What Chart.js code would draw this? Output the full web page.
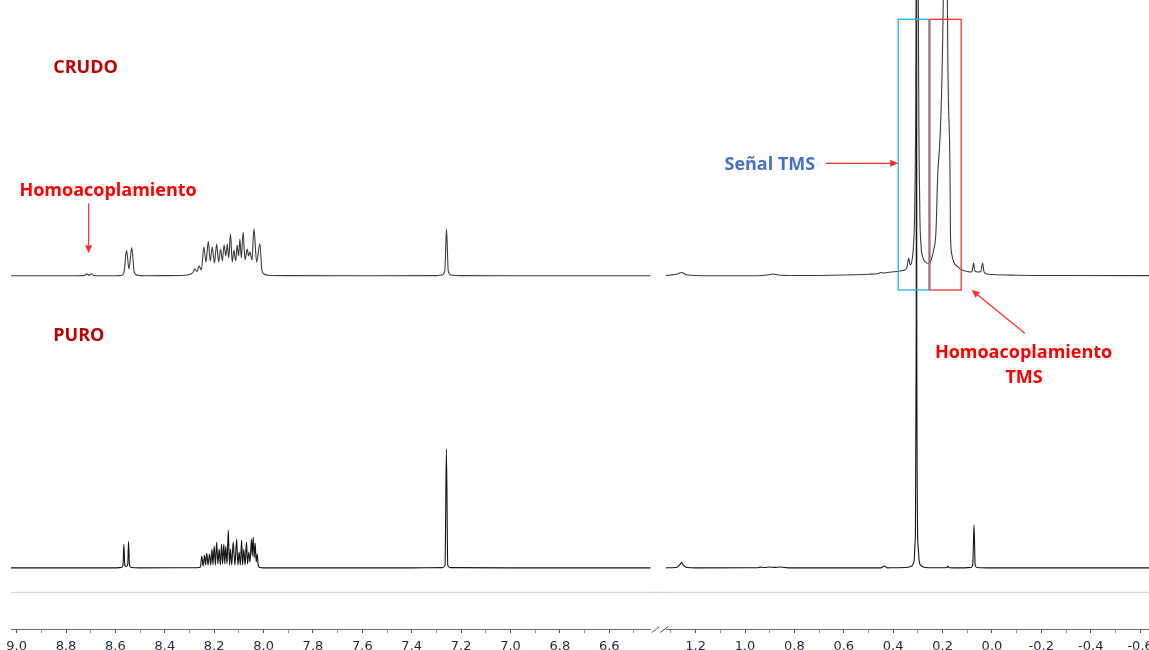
<!DOCTYPE html>
<html>
<head>
<meta charset="utf-8">
<script src="https://cdn.jsdelivr.net/npm/chart.js@4.4.1/dist/chart.umd.min.js"></script>
<style>
    html, body { margin: 0; padding: 0; background: #fff; }
    #wrap { position: relative; width: 1149px; height: 650px; overflow: hidden; background: #fff; }
    canvas { position: absolute; top: 0; }
    #leftChart { left: 0; }
    #rightChart { left: 652px; }
</style>
</head>
<body>
<div id="wrap">
    <canvas id="leftChart" width="672" height="660"></canvas>
    <canvas id="rightChart" width="520" height="660"></canvas>
</div>
<script>
// ppm shown on each side of the broken axis
var leftRange = [6.432, 9.023];
var rightRange = [-0.636, 1.320];

var leftMajorTicks = [9.0, 8.8, 8.6, 8.4, 8.2, 8.0, 7.8, 7.6, 7.4, 7.2, 7.0, 6.8, 6.6];
var leftMinorTicks = [8.9, 8.7, 8.5, 8.3, 8.1, 7.9, 7.7, 7.5, 7.3, 7.1, 6.9, 6.7, 6.5];
var rightMajorTicks = [1.2, 1.0, 0.8, 0.6, 0.4, 0.2, 0.0, -0.2, -0.4, -0.6];
var rightMinorTicks = [1.3, 1.1, 0.9, 0.7, 0.5, 0.3, 0.1, -0.1, -0.3, -0.5];

// [ppm, intensity]
var crudoAromatic = [
    [9.023, 0.3], [8.80, 0.2], [8.73, 0.4], [8.722, 1.0], [8.717, 2.3], [8.707, 0.8], [8.697, 2.3], [8.690, 0.8], [8.68, 0.3], [8.60, 0.3],
    [8.575, 0.8], [8.565, 4], [8.555, 25.7], [8.545, 7], [8.534, 28.4], [8.524, 4], [8.51, 0.8], [8.48, 0.3],
    [8.40, 0.4], [8.32, 0.8], [8.295, 2], [8.285, 4], [8.278, 7.3], [8.270, 4.5], [8.261, 10], [8.252, 6],
    [8.242, 29], [8.233, 14], [8.224, 34.7], [8.216, 15], [8.208, 29], [8.199, 13], [8.190, 32], [8.182, 14],
    [8.174, 27], [8.167, 15], [8.160, 31], [8.153, 20], [8.147, 32], [8.141, 18], [8.134, 42.3], [8.127, 14],
    [8.120, 25.7], [8.113, 15], [8.107, 30.7], [8.101, 20], [8.096, 37], [8.090, 18], [8.083, 44], [8.075, 16],
    [8.066, 27], [8.061, 20], [8.055, 24], [8.047, 16], [8.039, 47.3], [8.028, 14], [8.015, 32.3], [8.007, 6],
    [7.998, 2], [7.98, 0.8], [7.90, 0.4], [7.60, 0.3], [7.30, 0.4], [7.279, 1], [7.266, 5], [7.259, 47],
    [7.252, 5], [7.240, 1], [7.20, 0.4], [7.00, 0.3], [6.70, 0.3], [6.432, 0.3]
];

var crudoAliphatic = [
    [1.320, 0.5], [1.30, 1], [1.275, 2], [1.257, 3.5], [1.24, 1.5], [1.22, 0.8], [1.10, 0.3], [0.95, 0.3],
    [0.91, 1], [0.886, 2], [0.865, 1], [0.80, 0.5], [0.60, 1], [0.50, 1.8], [0.46, 2.5], [0.45, 3.5], [0.44, 3],
    [0.40, 4.3], [0.36, 5.5], [0.345, 8], [0.337, 17.7], [0.331, 11], [0.325, 14], [0.318, 30], [0.3125, 72],
    [0.307, 261], [0.3045, 700], [0.3024, 3000], [0.3003, 700], [0.2978, 261], [0.2925, 72], [0.287, 30],
    [0.280, 19], [0.270, 14], [0.2555, 12.5], [0.245, 17], [0.235, 27], [0.227, 43], [0.218, 109], [0.198, 261],
    [0.1925, 800], [0.189, 3000], [0.1855, 800], [0.180, 261], [0.170, 109], [0.168, 43], [0.162, 21], [0.155, 14],
    [0.137, 9], [0.125, 6.5], [0.10, 4.5], [0.085, 4], [0.080, 5], [0.0745, 13], [0.069, 5], [0.055, 4],
    [0.045, 4.5], [0.038, 13], [0.032, 4], [0.020, 2], [0.0, 1.5], [-0.1, 0.8], [-0.3, 0.5], [-0.636, 0.4]
];

var puroAromatic = [
    [9.023, 0.2], [8.60, 0.2], [8.575, 0.6], [8.569, 3], [8.566, 24], [8.562, 3], [8.556, 1.5], [8.550, 4],
    [8.547, 26.6], [8.543, 3], [8.536, 0.6], [8.50, 0.2], [8.27, 0.3], [8.256, 1],
    [8.250, 12], [8.245, 2], [8.239, 13], [8.235, 3], [8.230, 15], [8.225, 3], [8.219, 14], [8.214, 3],
    [8.209, 19], [8.205, 3], [8.200, 22], [8.195, 3], [8.190, 26], [8.185, 4], [8.180, 19], [8.175, 3],
    [8.170, 24], [8.166, 4], [8.161, 24], [8.157, 4], [8.153, 22], [8.148, 4], [8.143, 38], [8.138, 3],
    [8.134, 19], [8.129, 3], [8.123, 26], [8.116, 3], [8.109, 29], [8.104, 3], [8.099, 16], [8.094, 3],
    [8.089, 28], [8.085, 3], [8.080, 19], [8.075, 3], [8.069, 26], [8.065, 4], [8.060, 16], [8.055, 6],
    [8.049, 29], [8.046, 12], [8.042, 31], [8.038, 10], [8.034, 25], [8.030, 6], [8.026, 14], [8.021, 2],
    [8.015, 0.6], [8.00, 0.2], [7.40, 0.2], [7.275, 0.4], [7.265, 3], [7.2595, 119], [7.254, 3], [7.245, 0.4],
    [7.00, 0.2], [6.432, 0.2]
];

var puroAliphatic = [
    [1.320, 0.2], [1.30, 0.3], [1.275, 0.8], [1.262, 4], [1.257, 5.7], [1.250, 3], [1.235, 0.6], [1.20, 0.2],
    [0.95, 0.3], [0.94, 0.9], [0.92, 0.6], [0.90, 1.0], [0.88, 0.7], [0.86, 1.0], [0.84, 0.6], [0.82, 0.2],
    [0.45, 0.2], [0.435, 2], [0.425, 0.2], [0.40, 0.3], [0.34, 0.8], [0.325, 2], [0.316, 6], [0.310, 30],
    [0.3065, 250], [0.3055, 3000], [0.3045, 250], [0.300, 25], [0.294, 6], [0.285, 2], [0.27, 0.6], [0.20, 0.3],
    [0.182, 0.5], [0.178, 2], [0.174, 0.4], [0.12, 0.2], [0.085, 0.6], [0.078, 3], [0.0725, 43.3], [0.068, 3],
    [0.060, 0.6], [0.0, 0.2], [-0.636, 0.2]
];

// light rule under the lower spectrum (on the PURO intensity axis)
var separatorLevel = -24.3;

// intensity windows that stack the two spectra
var puroWindow = [-61, 568];
var crudoWindow = [-353, 276];

var noteFont = 'bold 18px "Open Sans", sans-serif';

function toPoints(pairs) {
    return pairs.map(function (p) { return { x: p[0], y: p[1] }; });
}

function spectrum(pairs, axis, color) {
    return {
        data: toPoints(pairs),
        yAxisID: axis,
        borderColor: color,
        borderWidth: 1.1,
        pointRadius: 0,
        fill: false,
        cubicInterpolationMode: 'monotone'
    };
}

function separator(fromPpm, toPpm) {
    return {
        data: [{ x: fromPpm, y: separatorLevel }, { x: toPpm, y: separatorLevel }],
        yAxisID: 'y',
        borderColor: '#cfcfcf',
        borderWidth: 1,
        pointRadius: 0,
        clip: false
    };
}

function xAxis(range, major, minor) {
    return {
        type: 'linear',
        reverse: true,
        min: range[0],
        max: range[1],
        afterBuildTicks: function (scale) {
            scale.ticks = major.concat(minor).sort(function (a, b) { return a - b; })
                .map(function (v) { return { value: v }; });
        },
        ticks: {
            autoSkip: false,
            maxRotation: 0,
            padding: 6,
            color: '#1f2a3c',
            font: { family: 'DejaVu Sans', size: 13, lineHeight: 1.15 },
            callback: function (v) { return major.indexOf(v) >= 0 ? v.toFixed(1) : ''; }
        },
        grid: {
            drawOnChartArea: false,
            tickLength: 4,
            tickColor: function (c) {
                return c.tick && major.indexOf(c.tick.value) >= 0 ? '#555' : '#9a9a9a';
            }
        },
        border: { display: true, color: '#6a6a6a', width: 1 }
    };
}

function drawArrow(ctx, x1, y1, x2, y2, color) {
    var a = Math.atan2(y2 - y1, x2 - x1);
    var len = 8, half = 3.5;
    ctx.strokeStyle = color;
    ctx.fillStyle = color;
    ctx.lineWidth = 1.2;
    ctx.beginPath();
    ctx.moveTo(x1, y1);
    ctx.lineTo(x2 - Math.cos(a) * len, y2 - Math.sin(a) * len);
    ctx.stroke();
    ctx.beginPath();
    ctx.moveTo(x2, y2);
    ctx.lineTo(x2 - Math.cos(a) * len - Math.sin(a) * half, y2 - Math.sin(a) * len + Math.cos(a) * half);
    ctx.lineTo(x2 - Math.cos(a) * len + Math.sin(a) * half, y2 - Math.sin(a) * len - Math.cos(a) * half);
    ctx.closePath();
    ctx.fill();
}

var notesPlugin = {
    id: 'notes',
    afterDatasetsDraw: function (chart, args, opts) {
        var ctx = chart.ctx;
        var xs = chart.scales.x;
        (opts.items || []).forEach(function (it) {
            var ys = chart.scales[it.axis || 'y2'];
            ctx.save();
            if (it.type === 'text') {
                ctx.font = noteFont;
                ctx.fillStyle = it.color;
                ctx.textAlign = it.align || 'left';
                ctx.textBaseline = 'alphabetic';
                ctx.fillText(it.text, xs.getPixelForValue(it.x), ys.getPixelForValue(it.y));
            } else if (it.type === 'arrow') {
                drawArrow(ctx, xs.getPixelForValue(it.from[0]), ys.getPixelForValue(it.from[1]),
                    xs.getPixelForValue(it.to[0]), ys.getPixelForValue(it.to[1]), it.color);
            } else if (it.type === 'rect') {
                var x1 = xs.getPixelForValue(it.from[0]), y1 = ys.getPixelForValue(it.from[1]);
                var x2 = xs.getPixelForValue(it.to[0]), y2 = ys.getPixelForValue(it.to[1]);
                ctx.strokeStyle = it.color;
                ctx.lineWidth = 1.3;
                ctx.strokeRect(x1, y1, x2 - x1, y2 - y1);
            } else if (it.type === 'break') {
                var r = chart.chartArea.right, b = chart.chartArea.bottom;
                ctx.strokeStyle = '#555';
                ctx.lineWidth = 1;
                ctx.beginPath();
                ctx.moveTo(r + 1, b + 3.5); ctx.lineTo(r + 9, b - 2.5);
                ctx.moveTo(r + 9.5, b + 3.5); ctx.lineTo(r + 17.5, b - 2.5);
                ctx.stroke();
            }
            ctx.restore();
        });
    }
};

function makeChart(id, range, major, minor, datasets, padding, notes) {
    return new Chart(document.getElementById(id), {
        type: 'line',
        data: { datasets: datasets },
        options: {
            responsive: false,
            animation: false,
            events: [],
            layout: { padding: padding },
            scales: {
                x: xAxis(range, major, minor),
                y: { type: 'linear', display: false, min: puroWindow[0], max: puroWindow[1] },
                y2: { type: 'linear', display: false, min: crudoWindow[0], max: crudoWindow[1] }
            },
            plugins: {
                legend: { display: false },
                tooltip: { enabled: false },
                notes: { items: notes }
            }
        },
        plugins: [notesPlugin]
    });
}

makeChart('leftChart', leftRange, leftMajorTicks, leftMinorTicks, [
    separator(9.023, 6.37),
    spectrum(crudoAromatic, 'y2', '#3c3c3c'),
    spectrum(puroAromatic, 'y', '#151515')
], { left: 11, right: 21.3, top: 0, bottom: 0 }, [
    { type: 'text', text: 'CRUDO', x: 8.852, y: 203.3, color: '#c00000' },
    { type: 'text', text: 'PURO', x: 8.852, y: -65, color: '#c00000' },
    { type: 'text', text: 'Homoacoplamiento', x: 8.989, y: 80, color: '#ff0000' },
    { type: 'arrow', from: [8.7085, 72.7], to: [8.7085, 22.7], color: '#ff2a2a' },
    { type: 'break' }
]);

makeChart('rightChart', rightRange, rightMajorTicks, rightMinorTicks, [
    separator(1.38, -0.64),
    spectrum(crudoAliphatic, 'y2', '#3c3c3c'),
    spectrum(puroAliphatic, 'y', '#151515')
], { left: 14, right: 23, top: 0, bottom: 0 }, [
    { type: 'rect', from: [0.3797, 256.7], to: [0.2555, -14], color: '#1fb5ea' },
    { type: 'rect', from: [0.2514, 256.7], to: [0.1247, -14], color: '#ff3030' },
    { type: 'text', text: 'Señal TMS', x: 0.7157, y: 106.4, color: '#4472c4', align: 'right' },
    { type: 'arrow', from: [0.6725, 112.7], to: [0.3797, 112.7], color: '#ff2a2a' },
    { type: 'text', text: 'Homoacoplamiento', x: -0.128, y: -82.3, color: '#ff0000', align: 'center' },
    { type: 'text', text: 'TMS', x: -0.130, y: -107.3, color: '#ff0000', align: 'center' },
    { type: 'arrow', from: [-0.1332, -57.3], to: [0.0826, -14], color: '#ff2a2a' }
]);
</script>
</body>
</html>
